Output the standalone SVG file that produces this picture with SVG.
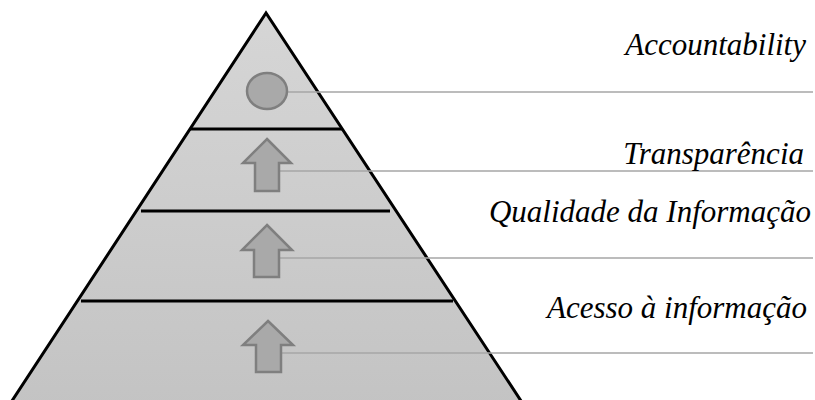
<svg xmlns="http://www.w3.org/2000/svg" width="815" height="400" viewBox="0 0 815 400" font-family="Liberation Serif, serif">
<defs>
<linearGradient id="g" x1="0" y1="0" x2="0" y2="1">
<stop offset="0" stop-color="#d6d6d6"/>
<stop offset="1" stop-color="#c3c3c3"/>
</linearGradient>
<style>
.div{stroke:#000;stroke-width:3}
.arr{fill:#a9a9a9;stroke:#7f7f7f;stroke-width:2.5}
.con{stroke:#a6a6a6;stroke-width:1.3;fill:none}
.lbl{font-family:'Liberation Serif',serif;font-style:italic;font-size:31px;text-anchor:end;fill:#000}
</style>
</defs>
<rect width="815" height="400" fill="#fff"/>
<g id="pyramid">
<polygon points="266,13 6,410 527,410" fill="url(#g)" stroke="#000" stroke-width="3"/>
<line class="div" x1="190" y1="129" x2="342" y2="129"/>
<line class="div" x1="141" y1="211" x2="390" y2="211"/>
<line class="div" x1="81" y1="301" x2="453" y2="301"/>
</g>
<g id="connectors">
<line class="con" x1="288" y1="92" x2="813" y2="92"/>
<line class="con" x1="279" y1="171" x2="813" y2="171"/>
<line class="con" x1="279" y1="258" x2="813" y2="258"/>
<line class="con" x1="281" y1="353" x2="813" y2="353"/>
</g>
<g id="accountability">
<ellipse cx="267" cy="91" rx="20" ry="18" fill="#a9a9a9" stroke="#7f7f7f" stroke-width="2.5"/>
<text class="lbl" x="806" y="55">Accountability</text>
</g>
<g id="transparencia">
<polygon class="arr" points="267,139 291,163 279,163 279,191 255,191 255,163 243,163"/>
<text class="lbl" x="804" y="164">Transparência</text>
</g>
<g id="qualidade">
<polygon class="arr" points="267,225 292,250 279,250 279,277 254,277 254,250 242,250"/>
<text class="lbl" x="811" y="222">Qualidade da Informação</text>
</g>
<g id="acesso">
<polygon class="arr" points="268,321 293,345 281,345 281,372 256,372 256,345 243,345"/>
<text class="lbl" x="807" y="318">Acesso à informação</text>
</g>
</svg>
